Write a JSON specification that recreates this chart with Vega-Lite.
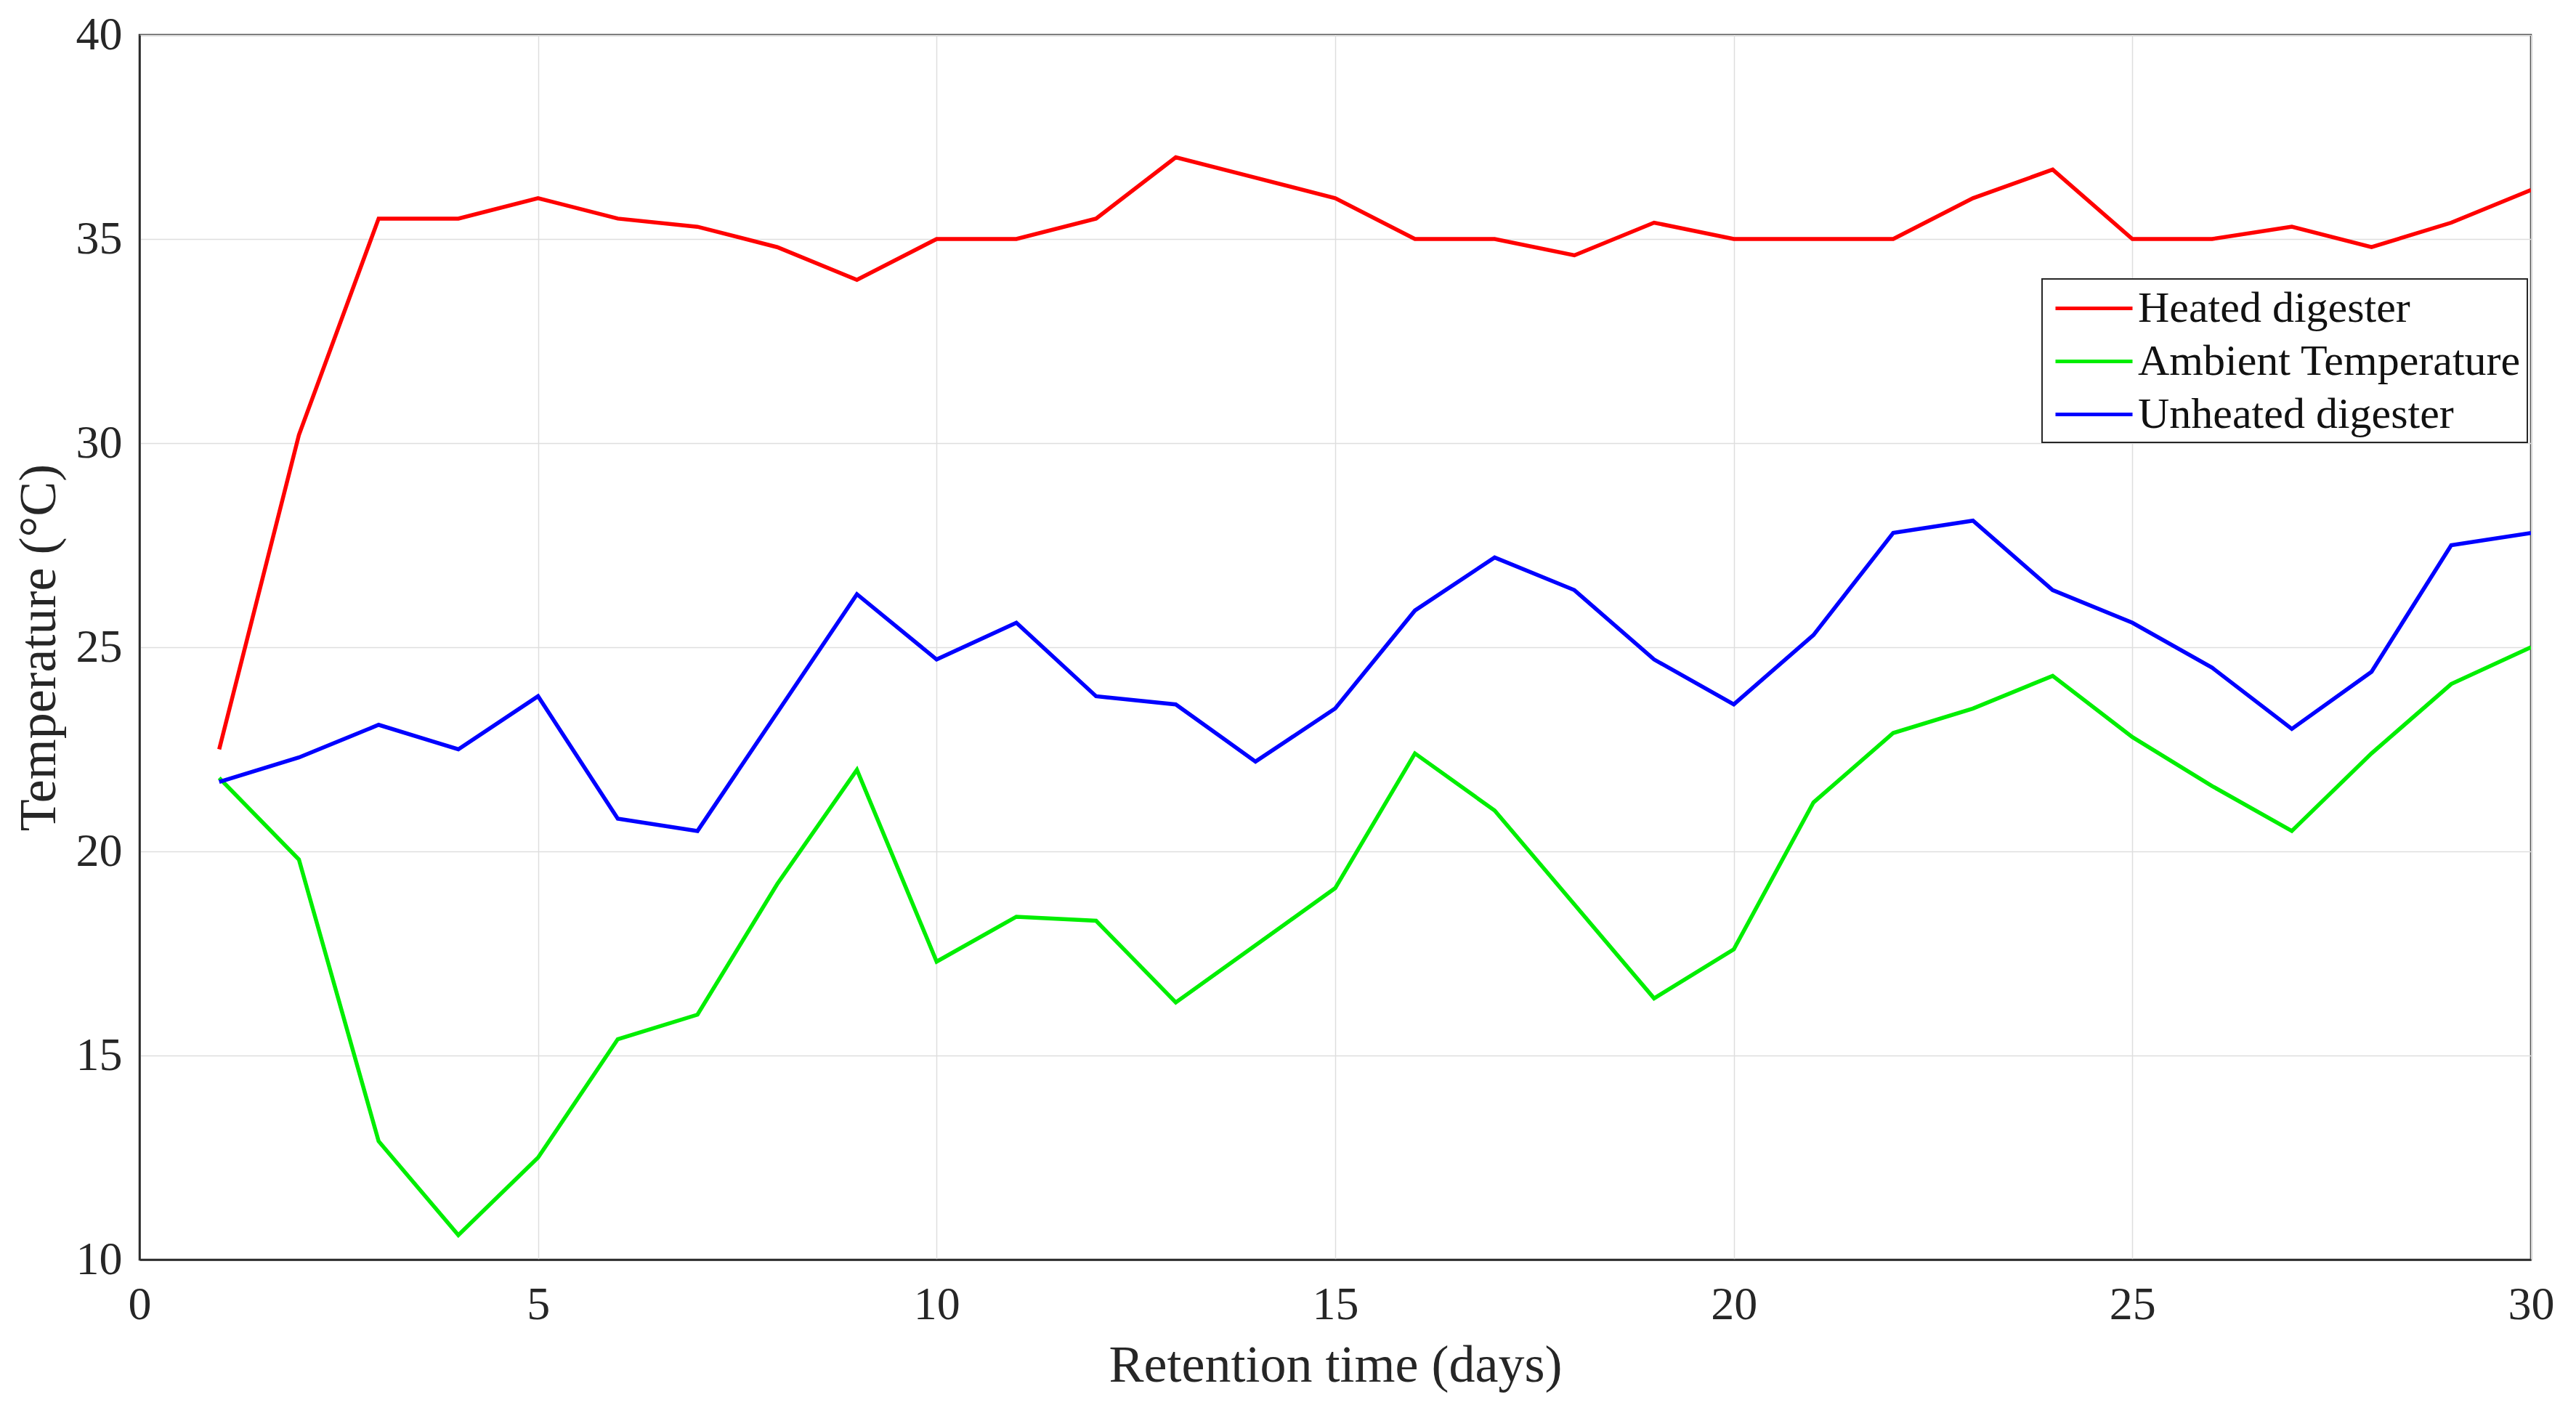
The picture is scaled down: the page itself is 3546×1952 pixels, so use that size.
{
  "$schema": "https://vega.github.io/schema/vega-lite/v6.json",
  "width": 3292,
  "height": 1686,
  "autosize": {"type": "none"},
  "padding": {"left": 192, "top": 48, "right": 62, "bottom": 218},
  "background": "white",
  "config": {
    "view": {"stroke": "#262626", "strokeWidth": 2.5},
    "font": "Liberation Serif",
    "axis": {
      "labelFont": "Liberation Serif",
      "titleFont": "Liberation Serif",
      "labelFontSize": 64,
      "titleFontSize": 72,
      "labelColor": "#262626",
      "titleColor": "#262626",
      "titleFontWeight": "normal",
      "gridColor": "#dedede",
      "gridWidth": 1.5,
      "domainColor": "#262626",
      "domainWidth": 2.5,
      "ticks": false,
      "labelOverlap": false,
      "labelFlush": false
    },
    "legend": {
      "strokeColor": "#262626",
      "strokeWidth": 2,
      "fillColor": "white",
      "cornerRadius": 0,
      "padding": 8
    }
  },
  "data": {
    "values": [
      {"day": 1, "series": "Heated digester", "temp": 22.5},
      {"day": 2, "series": "Heated digester", "temp": 30.2},
      {"day": 3, "series": "Heated digester", "temp": 35.5},
      {"day": 4, "series": "Heated digester", "temp": 35.5},
      {"day": 5, "series": "Heated digester", "temp": 36.0},
      {"day": 6, "series": "Heated digester", "temp": 35.5},
      {"day": 7, "series": "Heated digester", "temp": 35.3},
      {"day": 8, "series": "Heated digester", "temp": 34.8},
      {"day": 9, "series": "Heated digester", "temp": 34.0},
      {"day": 10, "series": "Heated digester", "temp": 35.0},
      {"day": 11, "series": "Heated digester", "temp": 35.0},
      {"day": 12, "series": "Heated digester", "temp": 35.5},
      {"day": 13, "series": "Heated digester", "temp": 37.0},
      {"day": 14, "series": "Heated digester", "temp": 36.5},
      {"day": 15, "series": "Heated digester", "temp": 36.0},
      {"day": 16, "series": "Heated digester", "temp": 35.0},
      {"day": 17, "series": "Heated digester", "temp": 35.0},
      {"day": 18, "series": "Heated digester", "temp": 34.6},
      {"day": 19, "series": "Heated digester", "temp": 35.4},
      {"day": 20, "series": "Heated digester", "temp": 35.0},
      {"day": 21, "series": "Heated digester", "temp": 35.0},
      {"day": 22, "series": "Heated digester", "temp": 35.0},
      {"day": 23, "series": "Heated digester", "temp": 36.0},
      {"day": 24, "series": "Heated digester", "temp": 36.7},
      {"day": 25, "series": "Heated digester", "temp": 35.0},
      {"day": 26, "series": "Heated digester", "temp": 35.0},
      {"day": 27, "series": "Heated digester", "temp": 35.3},
      {"day": 28, "series": "Heated digester", "temp": 34.8},
      {"day": 29, "series": "Heated digester", "temp": 35.4},
      {"day": 30, "series": "Heated digester", "temp": 36.2},
      {"day": 1, "series": "Ambient Temperature", "temp": 21.8},
      {"day": 2, "series": "Ambient Temperature", "temp": 19.8},
      {"day": 3, "series": "Ambient Temperature", "temp": 12.9},
      {"day": 4, "series": "Ambient Temperature", "temp": 10.6},
      {"day": 5, "series": "Ambient Temperature", "temp": 12.5},
      {"day": 6, "series": "Ambient Temperature", "temp": 15.4},
      {"day": 7, "series": "Ambient Temperature", "temp": 16.0},
      {"day": 8, "series": "Ambient Temperature", "temp": 19.2},
      {"day": 9, "series": "Ambient Temperature", "temp": 22.0},
      {"day": 10, "series": "Ambient Temperature", "temp": 17.3},
      {"day": 11, "series": "Ambient Temperature", "temp": 18.4},
      {"day": 12, "series": "Ambient Temperature", "temp": 18.3},
      {"day": 13, "series": "Ambient Temperature", "temp": 16.3},
      {"day": 14, "series": "Ambient Temperature", "temp": 17.7},
      {"day": 15, "series": "Ambient Temperature", "temp": 19.1},
      {"day": 16, "series": "Ambient Temperature", "temp": 22.4},
      {"day": 17, "series": "Ambient Temperature", "temp": 21.0},
      {"day": 18, "series": "Ambient Temperature", "temp": 18.7},
      {"day": 19, "series": "Ambient Temperature", "temp": 16.4},
      {"day": 20, "series": "Ambient Temperature", "temp": 17.6},
      {"day": 21, "series": "Ambient Temperature", "temp": 21.2},
      {"day": 22, "series": "Ambient Temperature", "temp": 22.9},
      {"day": 23, "series": "Ambient Temperature", "temp": 23.5},
      {"day": 24, "series": "Ambient Temperature", "temp": 24.3},
      {"day": 25, "series": "Ambient Temperature", "temp": 22.8},
      {"day": 26, "series": "Ambient Temperature", "temp": 21.6},
      {"day": 27, "series": "Ambient Temperature", "temp": 20.5},
      {"day": 28, "series": "Ambient Temperature", "temp": 22.4},
      {"day": 29, "series": "Ambient Temperature", "temp": 24.1},
      {"day": 30, "series": "Ambient Temperature", "temp": 25.0},
      {"day": 1, "series": "Unheated digester", "temp": 21.7},
      {"day": 2, "series": "Unheated digester", "temp": 22.3},
      {"day": 3, "series": "Unheated digester", "temp": 23.1},
      {"day": 4, "series": "Unheated digester", "temp": 22.5},
      {"day": 5, "series": "Unheated digester", "temp": 23.8},
      {"day": 6, "series": "Unheated digester", "temp": 20.8},
      {"day": 7, "series": "Unheated digester", "temp": 20.5},
      {"day": 8, "series": "Unheated digester", "temp": 23.4},
      {"day": 9, "series": "Unheated digester", "temp": 26.3},
      {"day": 10, "series": "Unheated digester", "temp": 24.7},
      {"day": 11, "series": "Unheated digester", "temp": 25.6},
      {"day": 12, "series": "Unheated digester", "temp": 23.8},
      {"day": 13, "series": "Unheated digester", "temp": 23.6},
      {"day": 14, "series": "Unheated digester", "temp": 22.2},
      {"day": 15, "series": "Unheated digester", "temp": 23.5},
      {"day": 16, "series": "Unheated digester", "temp": 25.9},
      {"day": 17, "series": "Unheated digester", "temp": 27.2},
      {"day": 18, "series": "Unheated digester", "temp": 26.4},
      {"day": 19, "series": "Unheated digester", "temp": 24.7},
      {"day": 20, "series": "Unheated digester", "temp": 23.6},
      {"day": 21, "series": "Unheated digester", "temp": 25.3},
      {"day": 22, "series": "Unheated digester", "temp": 27.8},
      {"day": 23, "series": "Unheated digester", "temp": 28.1},
      {"day": 24, "series": "Unheated digester", "temp": 26.4},
      {"day": 25, "series": "Unheated digester", "temp": 25.6},
      {"day": 26, "series": "Unheated digester", "temp": 24.5},
      {"day": 27, "series": "Unheated digester", "temp": 23.0},
      {"day": 28, "series": "Unheated digester", "temp": 24.4},
      {"day": 29, "series": "Unheated digester", "temp": 27.5},
      {"day": 30, "series": "Unheated digester", "temp": 27.8}
    ]
  },
  "mark": {"type": "line", "strokeWidth": 5.5, "strokeJoin": "miter", "clip": true},
  "encoding": {
    "x": {
      "field": "day",
      "type": "quantitative",
      "scale": {"domain": [0, 30], "nice": false, "zero": false},
      "axis": {
        "title": "Retention time (days)",
        "values": [0, 5, 10, 15, 20, 25, 30],
        "labelPadding": 30,
        "titlePadding": 16
      }
    },
    "y": {
      "field": "temp",
      "type": "quantitative",
      "scale": {"domain": [10, 40], "nice": false, "zero": false},
      "axis": {
        "title": "Temperature (°C)",
        "values": [10, 15, 20, 25, 30, 35, 40],
        "labelPadding": 24,
        "titlePadding": 14
      }
    },
    "color": {
      "field": "series",
      "type": "nominal",
      "sort": ["Heated digester", "Ambient Temperature", "Unheated digester"],
      "scale": {
        "domain": ["Heated digester", "Ambient Temperature", "Unheated digester"],
        "range": ["#ff0000", "#00ee00", "#0000ff"]
      },
      "legend": {
        "title": null,
        "orient": "none",
        "legendX": 2619,
        "legendY": 336,
        "direction": "vertical",
        "rowPadding": 10,
        "symbolType": "M-1.767,0H1.767",
        "symbolSize": 3600,
        "symbolStrokeWidth": 5,
        "symbolOffset": 31,
        "labelOffset": 28,
        "labelFont": "Liberation Serif",
        "labelFontSize": 60,
        "labelColor": "#111111",
        "labelLimit": 1000
      }
    }
  }
}
